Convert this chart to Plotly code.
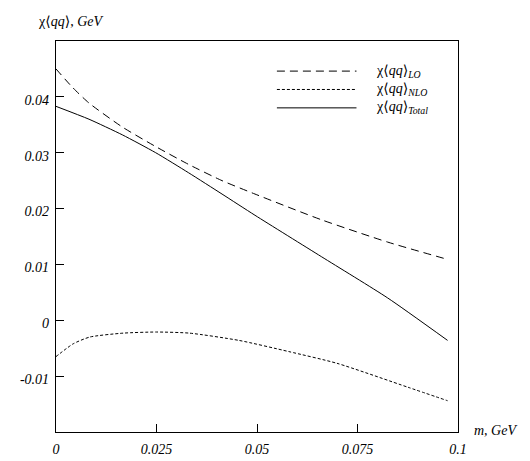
import plotly.graph_objects as go

# Data
m_lo = [0.0, 0.0041, 0.0082, 0.0165, 0.0248, 0.0330, 0.0413, 0.0495, 0.0660, 0.0825, 0.0974]
chi_lo = [0.0450, 0.0417, 0.0389, 0.0346, 0.0311, 0.0279, 0.0250, 0.0226, 0.0180, 0.0140, 0.0109]

m_nlo = [0.0, 0.0043, 0.0084, 0.0167, 0.0250, 0.0332, 0.0455, 0.0579, 0.0699, 0.0876, 0.0974]
chi_nlo = [-0.0065, -0.0042, -0.0030, -0.0023, -0.0021, -0.0023, -0.0036, -0.0056, -0.0077, -0.0120, -0.0144]

m_tot = [0.0, 0.0082, 0.0165, 0.0248, 0.0330, 0.0413, 0.0495, 0.0660, 0.0825, 0.0974]
chi_tot = [0.0383, 0.0360, 0.0332, 0.0300, 0.0264, 0.0226, 0.0188, 0.0114, 0.0040, -0.0036]

x_ticks = [0, 0.025, 0.05, 0.075, 0.1]
x_labels = ["0", "0.025", "0.05", "0.075", "0.1"]
y_ticks = [-0.01, 0, 0.01, 0.02, 0.03, 0.04]
y_labels = ["-0.01", "0", "0.01", "0.02", "0.03", "0.04"]

names = ["χ⟨<i>qq</i>⟩<sub><i>LO</i></sub>",
         "χ⟨<i>qq</i>⟩<sub><i>NLO</i></sub>",
         "χ⟨<i>qq</i>⟩<sub><i>Total</i></sub>"]
dashes = ["8px,5px", "3px,2px", "solid"]

FONT = "Liberation Serif, DejaVu Serif, serif"

fig = go.Figure()
for xs, ys, d in [(m_lo, chi_lo, dashes[0]), (m_nlo, chi_nlo, dashes[1]), (m_tot, chi_tot, dashes[2])]:
    fig.add_trace(go.Scatter(x=xs, y=ys, mode="lines",
                             line=dict(color="black", width=1, dash=d, shape="spline", smoothing=0.6),
                             showlegend=False, hoverinfo="skip"))

# manual legend
shapes = []
annotations = []
rows_y = [0.923, 0.876, 0.829]
for name, d, yy in zip(names, dashes, rows_y):
    shapes.append(dict(type="line", xref="paper", yref="paper", x0=0.5495, x1=0.7475, y0=yy, y1=yy,
                       line=dict(color="black", width=1, dash=d)))
    annotations.append(dict(xref="paper", yref="paper", x=0.79, y=yy, xanchor="left", yanchor="middle",
                            text=name, showarrow=False, font=dict(family=FONT, size=14, color="black")))

annotations.append(dict(xref="paper", yref="paper", x=-0.049, y=1.05, xanchor="left", yanchor="middle",
                        text="χ⟨<i>qq</i>⟩, <i>GeV</i>", showarrow=False,
                        font=dict(family=FONT, size=14, color="black")))
annotations.append(dict(xref="paper", yref="paper", x=1.035, y=0.005, xanchor="left", yanchor="middle",
                        text="<i>m, GeV</i>", showarrow=False,
                        font=dict(family=FONT, size=14, color="black")))

fig.update_layout(
    width=530, height=461,
    margin=dict(l=46, r=80, t=33, b=25),
    paper_bgcolor="white", plot_bgcolor="white",
    font=dict(family=FONT, size=14, color="black"),
    shapes=shapes, annotations=annotations,
)
fig.update_xaxes(range=[0, 0.1], tickvals=x_ticks, ticktext=x_labels, ticks="inside", ticklen=8,
                 tickcolor="black", tickwidth=1, showgrid=False, zeroline=False,
                 showline=True, mirror=True, linecolor="black", linewidth=1.2,
                 tickfont=dict(family=FONT, size=14, style="italic"), ticklabelstandoff=4)
fig.update_yaxes(range=[-0.02, 0.05], tickvals=y_ticks, ticktext=y_labels, ticks="inside", ticklen=8,
                 tickcolor="black", tickwidth=1, showgrid=False, zeroline=False,
                 showline=True, mirror=True, linecolor="black", linewidth=1.2,
                 tickfont=dict(family=FONT, size=14, style="italic"), ticklabelshift=3, ticklabelstandoff=3)

fig.write_html("out.html")
